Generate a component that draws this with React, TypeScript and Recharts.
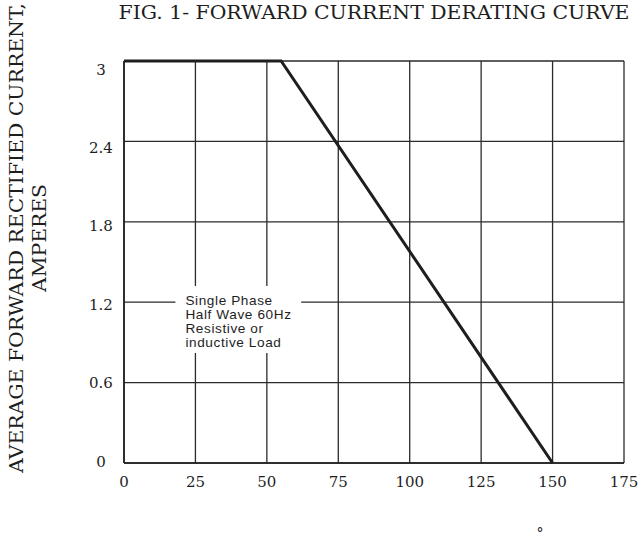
import React from "react";
import {
  LineChart,
  Line,
  XAxis,
  YAxis,
  CartesianGrid,
  ReferenceArea,
} from "recharts";

// derating curve: flat at 3 A up to ~55 °C, then down to 0 at 150 °C
const temps = [0, 55, 150];
const currents = [3, 3, 0];

const xTicks = [0, 25, 50, 75, 100, 125, 150, 175];
const yTicks = [0, 0.6, 1.2, 1.8, 2.4, 3];
const yTickLabels = ["0", "0.6", "1.2", "1.8", "2.4", "3"];

const noteLines = [
  "Single Phase",
  "Half Wave 60Hz",
  "Resistive or",
  "inductive Load",
];

const data = temps.map((t, i) => ({ temp: t, current: currents[i] }));

const SERIF = "'DejaVu Serif', serif";
const INK = "#1e1e1e";

const XTick = (props: any) => {
  const { x, y, payload } = props;
  return (
    <text x={x} y={y + 24} textAnchor="middle" fontFamily={SERIF} fontSize={15} fill={INK}>
      {payload.value}
    </text>
  );
};

const YTick = (props: any) => {
  const { x, y, payload } = props;
  const idx = yTicks.indexOf(payload.value);
  // labels in the original sit slightly lower toward the top
  const shift = -2 + (payload.value * 10) / 3;
  return (
    <text x={x - 23} y={y + shift + 5.5} textAnchor="middle" fontFamily={SERIF} fontSize={15} fill={INK}>
      {idx >= 0 ? yTickLabels[idx] : payload.value}
    </text>
  );
};

const YLabel = (props: any) => {
  const { viewBox } = props;
  const cy = viewBox.y + viewBox.height / 2 - 24;
  return (
    <g fontFamily={SERIF} fontSize={18} fill={INK}>
      <text
        x={23}
        y={cy}
        transform={`rotate(-90 23 ${cy})`}
        textAnchor="middle"
        textLength={470}
        lengthAdjust="spacingAndGlyphs"
      >
        AVERAGE FORWARD RECTIFIED CURRENT,
      </text>
      <text x={46} y={cy} transform={`rotate(-90 46 ${cy})`} textAnchor="middle" textLength={108} lengthAdjust="spacingAndGlyphs">
        AMPERES
      </text>
    </g>
  );
};

const NoteLabel = (props: any) => {
  const { viewBox } = props;
  const x0 = viewBox.x + 10;
  const y0 = viewBox.y + 19;
  return (
    <text
      x={x0}
      y={y0}
      fontFamily="'Liberation Sans', Arial, sans-serif"
      fontSize={13.6}
      letterSpacing={0.6}
      fill={INK}
    >
      {noteLines.map((s, i) => (
        <tspan key={i} x={x0} y={y0 + i * 14}>
          {s}
        </tspan>
      ))}
    </text>
  );
};

export default function App() {
  return (
    <div style={{ position: "relative", width: 643, height: 542, background: "#fff" }}>
      <style>{`body{margin:0;background:#fff}`}</style>
      <LineChart
        width={643}
        height={542}
        data={data}
        margin={{ top: 61, right: 19, left: 0, bottom: 0 }}
      >
        <CartesianGrid stroke="#2a2a2a" strokeWidth={1.3} />
        <XAxis
          dataKey="temp"
          type="number"
          domain={[0, 175]}
          ticks={xTicks}
          height={79}
          tickSize={0}
          tickMargin={0}
          tickLine={false}
          axisLine={{ stroke: INK, strokeWidth: 1.6 }}
          tick={<XTick />}
          interval={0}
        />
        <YAxis
          type="number"
          domain={[0, 3]}
          ticks={yTicks}
          width={124}
          tickSize={0}
          tickMargin={0}
          tickLine={false}
          axisLine={{ stroke: INK, strokeWidth: 1.6 }}
          tick={<YTick />}
          interval={0}
          label={<YLabel />}
        />
        <ReferenceArea
          x1={18}
          x2={62}
          y1={0.82}
          y2={1.32}
          fill="#fff"
          fillOpacity={1}
          stroke="none"
          label={<NoteLabel />}
        />
        <Line
          type="linear"
          dataKey="current"
          stroke={INK}
          strokeWidth={3}
          dot={false}
          isAnimationActive={false}
        />
      </LineChart>
      <svg
        width={643}
        height={542}
        style={{ position: "absolute", left: 0, top: 0, pointerEvents: "none" }}
      >
        <text
          x={374}
          y={19}
          textAnchor="middle"
          fontFamily={SERIF}
          fontSize={19}
          fill={INK}
          textLength={511}
          lengthAdjust="spacingAndGlyphs"
        >
          FIG. 1- FORWARD CURRENT DERATING CURVE
        </text>
        <text x={540} y={538} textAnchor="middle" fontFamily={SERIF} fontSize={14} fill={INK}>
          °
        </text>
      </svg>
    </div>
  );
}
